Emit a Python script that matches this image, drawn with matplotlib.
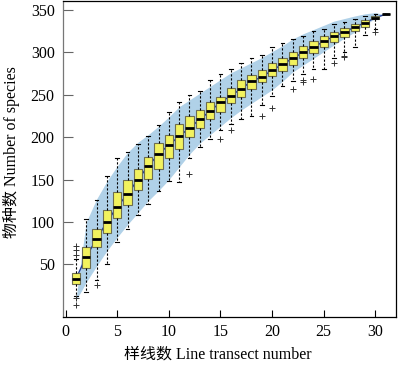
import numpy as np
import matplotlib
matplotlib.use("Agg")
import matplotlib.pyplot as plt

# ------------------------------------------------------------
# Species accumulation boxplots
# ------------------------------------------------------------

x_pos = list(range(1, 32))

q1 = [27, 46, 70, 87, 105, 120, 138, 151, 163, 175, 186, 200, 211, 222, 230, 240,
      247, 257, 265, 272, 278, 285, 293, 299, 306, 312, 318, 325, 330, 339, 345]
med = [33, 59, 80, 100, 118, 133, 150, 166, 180, 191, 201, 211, 221, 231, 241, 249,
       257, 266, 271, 279, 286, 293, 300, 306, 313, 319, 324, 330, 335, 341, 345]
q3 = [40, 71, 92, 114, 135, 150, 163, 177, 193, 203, 216, 225, 232, 242, 248, 258,
      267, 273, 279, 287, 293, 301, 308, 313, 319, 324, 329, 334, 338, 343, 345]
whis_lo = [13, 17, 32, 50, 76, 92, 108, 121, 137, 148, 147, 175, 189, 198, 208, 216,
           221, 225, 238, 249, 260, 266, 274, 280, 280, 293, 301, 306, 320, 328, 345]
whis_hi = [56, 104, 126, 154, 176, 182, 192, 202, 215, 230, 241, 250, 254, 268, 274, 280,
           287, 293, 297, 306, 311, 316, 319, 325, 328, 333, 336, 339, 343, 345, 345]
fliers = {1: [61, 67, 72, 10, 2], 3: [26], 12: [157], 15: [198], 16: [209],
          19: [225], 20: [234], 22: [257], 23: [265, 267], 24: [269],
          26: [287], 27: [295, 296], 30: [324]}

# shaded confidence band
band_x = [1, 1.5] + list(range(2, 31)) + [30.7]
band_hi = [8, 56, 100, 127, 148, 166, 182, 194, 203, 213, 224, 236, 244, 252, 260, 268,
           276, 282, 288, 294, 301, 308, 316, 322, 327, 332, 337, 340, 343, 345.6, 347, 345]
band_lo = [8, 18, 29, 48, 66, 82, 97, 111, 125, 137, 150, 165, 180, 193, 203, 213,
           223, 232, 240, 248, 256, 266, 277, 285, 293, 301, 309, 317, 324, 333, 340, 345]

x_ticks = [0, 5, 10, 15, 20, 25, 30]
y_ticks = [50, 100, 150, 200, 250, 300, 350]

FONT = ["Liberation Serif", "Noto Sans CJK SC"]

fig = plt.figure(figsize=(4.0, 3.66), dpi=100)
ax = fig.add_axes([0.1575, 0.134, 0.8325, 0.864])

ax.fill_between(band_x, band_lo, band_hi, color="#b0d1e8", lw=0, zorder=1)
ax.plot(x_pos, med, color="#1f3c99", lw=1.0, zorder=2)

stats = []
for i, x in enumerate(x_pos):
    stats.append(dict(med=med[i], q1=q1[i], q3=q3[i],
                      whislo=whis_lo[i], whishi=whis_hi[i],
                      fliers=fliers.get(x, [])))

ax.bxp(stats, positions=x_pos, widths=0.8, patch_artist=True,
       showfliers=True, manage_ticks=False, zorder=3,
       boxprops=dict(facecolor="#f2f25e", edgecolor="#6e6e50", lw=0.8),
       medianprops=dict(color="black", lw=2.0),
       whiskerprops=dict(color="black", lw=0.8, linestyle=(0, (2, 1.6))),
       capprops=dict(color="black", lw=0.8),
       capwidths=0.35,
       flierprops=dict(marker="+", markersize=4, markeredgecolor="#333333",
                       markeredgewidth=0.7))

ax.set_xlim(-0.25, 32)
ax.set_ylim(-12, 361)
ax.set_xticks(x_ticks)
ax.set_yticks(y_ticks)
ax.set_xticklabels([str(t) for t in x_ticks], fontfamily=FONT, fontsize=11.5)
ax.set_yticklabels([str(t) for t in y_ticks], fontfamily=FONT, fontsize=11.5)
ax.tick_params(axis="x", direction="in", length=5, width=0.8, pad=5, colors="black")
ax.tick_params(axis="y", direction="in", length=7, width=0.8, pad=6,
               color="#666666", labelcolor="black")

ax.spines["left"].set_color("#777777")
for s in ["bottom", "top", "right"]:
    ax.spines[s].set_color("black")
for s in ax.spines.values():
    s.set_linewidth(0.9)

ax.set_xlabel("样线数 Line transect number", fontfamily=FONT, fontsize=11.5)
ax.set_ylabel("物种数 Number of species", fontfamily=FONT, fontsize=11.5)
ax.xaxis.set_label_coords(0.465, -0.095)
ax.yaxis.set_label_coords(-0.13, 0.52)

plt.savefig("out.png", dpi=100)
plt.close()
